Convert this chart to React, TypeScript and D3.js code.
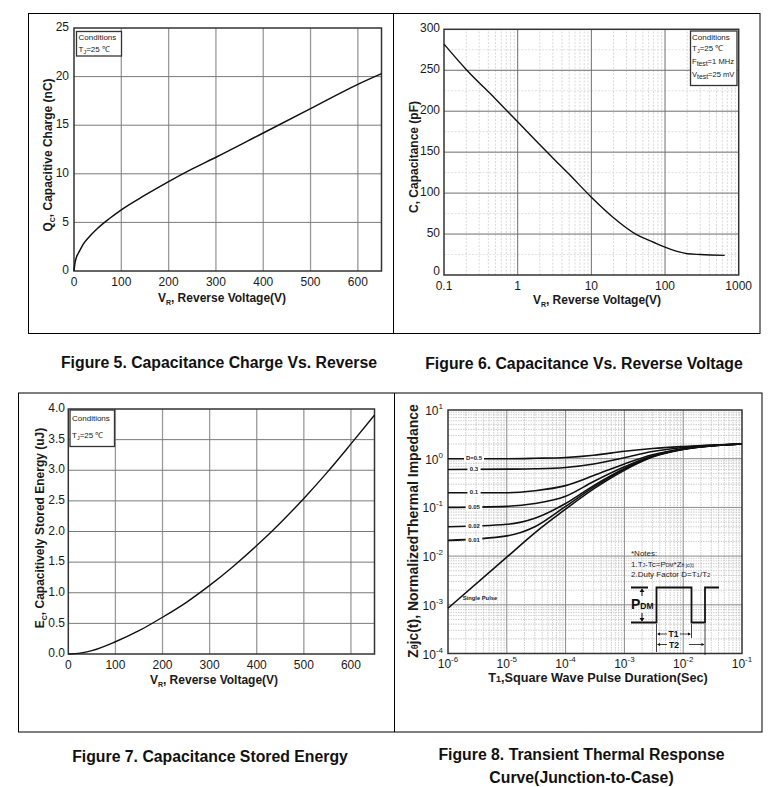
import React from "react";
import * as d3 from "d3";

// ---------- DATA ----------
// Figure 5: capacitive charge
const Q_V = [0, 2, 5, 10, 20, 30, 50, 75, 100, 150, 200, 250, 300, 400, 500, 600, 650];
const Q_NC = [0, 0.8, 1.4, 1.9, 2.8, 3.4, 4.4, 5.4, 6.3, 7.8, 9.2, 10.5, 11.7, 14.2, 16.7, 19.2, 20.3];
const Q_XTICKS = [0, 100, 200, 300, 400, 500, 600];
const Q_YTICKS = [0, 5, 10, 15, 20, 25];

// Figure 6: capacitance
const C_V = [0.1, 0.2, 0.5, 1, 2, 3, 5, 10, 20, 40, 70, 100, 150, 200, 300, 645];
const C_PF = [282, 251, 215, 187, 159, 143, 123, 95, 70, 50, 40, 34, 28.5, 26, 25, 24];
const C_XTICKS = [0.1, 1, 10, 100, 1000];
const C_XLABELS = ["0.1", "1", "10", "100", "1000"];
const C_YTICKS = [0, 50, 100, 150, 200, 250, 300];

// Figure 7: stored energy
const E_V = [0, 25, 50, 100, 150, 200, 250, 300, 350, 400, 450, 500, 550, 600, 650];
const E_UJ = [0, 0.015, 0.055, 0.2, 0.38, 0.6, 0.84, 1.12, 1.43, 1.77, 2.14, 2.54, 2.97, 3.43, 3.9];
const E_XTICKS = [0, 100, 200, 300, 400, 500, 600];
const E_YTICKS = [0, 0.5, 1, 1.5, 2, 2.5, 3, 3.5, 4];

// Figure 8: transient thermal impedance
const T_SEC = [1e-6, 1e-5, 3e-5, 1e-4, 3e-4, 1e-3, 3e-3, 1e-2, 3e-2, 1e-1];
const Z_D05 = [1.0, 1.0, 1.02, 1.06, 1.18, 1.42, 1.62, 1.78, 1.9, 2.0];
const Z_D03 = [0.6, 0.61, 0.62, 0.66, 0.78, 1.05, 1.4, 1.7, 1.88, 2.0];
const Z_D01 = [0.2, 0.2, 0.22, 0.28, 0.45, 0.78, 1.2, 1.6, 1.85, 2.0];
const Z_D005 = [0.1, 0.105, 0.12, 0.17, 0.34, 0.68, 1.15, 1.58, 1.84, 2.0];
const Z_D002 = [0.04, 0.045, 0.06, 0.12, 0.28, 0.63, 1.12, 1.57, 1.83, 2.0];
const Z_D001 = [0.021, 0.026, 0.04, 0.105, 0.26, 0.61, 1.1, 1.56, 1.83, 2.0];
const Z_SINGLE = [8.5e-4, 0.0095, 0.03, 0.092, 0.24, 0.58, 1.08, 1.55, 1.82, 2.0];
const D_LABELS = ["D=0.5", "0.3", "0.1", "0.05", "0.02", "0.01"];
const T_EXP = [-6, -5, -4, -3, -2, -1];
const Z_EXP = [-4, -3, -2, -1, 0, 1];

const FONT = "Arial, 'Liberation Sans', Helvetica, sans-serif";
const INK = "#1a1a1a";

function linePath(xs: number[], ys: number[], sx: any, sy: any) {
  const pts = xs.map((x, i) => [x, ys[i]] as [number, number]);
  return d3
    .line<[number, number]>()
    .x((d) => sx(d[0]))
    .y((d) => sy(d[1]))
    .curve(d3.curveMonotoneX)(pts) as string;
}

function CondBox({ x, y, w, h, lines }: { x: number; y: number; w: number; h: number; lines: React.ReactNode[] }) {
  return (
    <g>
      <rect x={x} y={y} width={w} height={h} fill="#fff" stroke="#333" strokeWidth={1.3} />
      {lines}
    </g>
  );
}

function Sub({ children, size = 7 }: { children: React.ReactNode; size?: number }) {
  return (
    <tspan fontSize={size} dy={3}>
      {children}
    </tspan>
  );
}

export default function App() {
  // ---------- Panel 1 ----------
  const x1 = d3.scaleLinear().domain([0, 650]).range([74, 381.5]);
  const y1 = d3.scaleLinear().domain([0, 25]).range([271, 28]);
  // ---------- Panel 2 ----------
  const x2 = d3.scaleLog().domain([0.1, 1000]).range([444, 738.7]);
  const y2 = d3.scaleLinear().domain([0, 300]).range([275, 29.3]);
  // ---------- Panel 3 ----------
  const x3 = d3.scaleLinear().domain([0, 650]).range([68.3, 374.5]);
  const y3 = d3.scaleLinear().domain([0, 4]).range([654, 409]);
  // ---------- Panel 4 ----------
  const x4 = d3.scaleLog().domain([1e-6, 1e-1]).range([448, 742]);
  const y4 = d3.scaleLog().domain([1e-4, 10]).range([653.5, 410]);

  const minor2: number[] = [];
  for (let e = -1; e < 3; e++) for (let k = 2; k <= 9; k++) minor2.push(k * Math.pow(10, e));
  const minor2y = [25, 75, 125, 175, 225, 275];
  const minor4x: number[] = [];
  for (let e = -6; e < -1; e++) for (let k = 2; k <= 9; k++) minor4x.push(k * Math.pow(10, e));
  const minor4y: number[] = [];
  for (let e = -4; e < 1; e++) for (let k = 2; k <= 9; k++) minor4y.push(k * Math.pow(10, e));

  const zSeries = [Z_D05, Z_D03, Z_D01, Z_D005, Z_D002, Z_D001];

  const tick = { fontFamily: FONT, fontSize: 12, fill: INK };
  const title = { fontFamily: FONT, fontSize: 12, fontWeight: 700, fill: INK };
  const cond = { fontFamily: FONT, fontSize: 8, fill: INK };
  const caption = { fontFamily: FONT, fontSize: 15.8, fontWeight: 700, fill: "#111" };

  return (
    <svg
      width={784}
      height={787}
      style={{ position: "absolute", left: 0, top: 0, background: "#fff" }}
      xmlns="http://www.w3.org/2000/svg"
    >
      <rect x={0} y={0} width={784} height={787} fill="#fff" />
      {/* outer frames */}
      <rect x={28.5} y={13.5} width={731.5} height={320} fill="none" stroke="#000" strokeWidth={1} />
      <line x1={393.5} x2={393.5} y1={13.5} y2={333.5} stroke="#000" />
      <rect x={18.5} y={393} width={743.5} height={339} fill="none" stroke="#000" strokeWidth={1} />
      <line x1={394.5} x2={394.5} y1={393} y2={732} stroke="#000" />

      {/* ================= PANEL 1 ================= */}
      <g>
        {Q_XTICKS.slice(1).map((v) => (
          <line key={"g1x" + v} x1={x1(v)} x2={x1(v)} y1={y1(0)} y2={y1(25)} stroke="#9a9a9a" strokeWidth={1.3} />
        ))}
        {Q_YTICKS.slice(1, -1).map((v) => (
          <line key={"g1y" + v} x1={x1(0)} x2={x1(650)} y1={y1(v)} y2={y1(v)} stroke="#7a7a7a" strokeWidth={1} />
        ))}
        <rect x={x1(0)} y={y1(25)} width={x1(650) - x1(0)} height={y1(0) - y1(25)} fill="none" stroke="#333" strokeWidth={1.5} />
        <path d={linePath(Q_V, Q_NC, x1, y1)} fill="none" stroke="#111" strokeWidth={1.5} />
        {Q_XTICKS.map((v) => (
          <text key={"t1x" + v} x={x1(v)} y={y1(0) + 12} textAnchor="middle" dominantBaseline="middle" {...tick}>
            {v}
          </text>
        ))}
        {Q_YTICKS.map((v) => (
          <text key={"t1y" + v} x={69} y={y1(v)} textAnchor="end" dominantBaseline="middle" {...tick}>
            {v}
          </text>
        ))}
        <text x={222} y={302} textAnchor="middle" {...title}>
          V<Sub>R</Sub>
          <tspan dy={-3}>,  Reverse Voltage(V)</tspan>
        </text>
        <text transform="translate(52,155) rotate(-90)" textAnchor="middle" {...title}>
          Q<Sub>C</Sub>
          <tspan dy={-3}>, Capacitive Charge (nC)</tspan>
        </text>
        <CondBox
          x={76.5}
          y={31.5}
          w={45}
          h={24.5}
          lines={[
            <text key="a" x={78.5} y={40} {...cond}>Conditions</text>,
            <text key="b" x={78.5} y={51.5} {...cond}>
              T<tspan fontSize={5.5} dy={2}>J</tspan>
              <tspan dy={-2}>=25 ℃</tspan>
            </text>,
          ]}
        />
      </g>

      {/* ================= PANEL 2 ================= */}
      <g>
        {minor2.map((v) => (
          <line key={"m2x" + v} x1={x2(v)} x2={x2(v)} y1={y2(0)} y2={y2(300)} stroke="#cfcfcf" strokeWidth={0.8} strokeDasharray="2,1.5" />
        ))}
        {minor2y.map((v) => (
          <line key={"m2y" + v} x1={x2(0.1)} x2={x2(1000)} y1={y2(v)} y2={y2(v)} stroke="#d8d8d8" strokeWidth={0.8} strokeDasharray="2,1.5" />
        ))}
        {C_XTICKS.slice(1, -1).map((v) => (
          <line key={"g2x" + v} x1={x2(v)} x2={x2(v)} y1={y2(0)} y2={y2(300)} stroke="#6e6e6e" strokeWidth={1} />
        ))}
        {C_YTICKS.slice(1, -1).map((v) => (
          <line key={"g2y" + v} x1={x2(0.1)} x2={x2(1000)} y1={y2(v)} y2={y2(v)} stroke="#6e6e6e" strokeWidth={1} />
        ))}
        <rect x={x2(0.1)} y={y2(300)} width={x2(1000) - x2(0.1)} height={y2(0) - y2(300)} fill="none" stroke="#333" strokeWidth={1.5} />
        <path d={linePath(C_V, C_PF, x2, y2)} fill="none" stroke="#111" strokeWidth={1.4} />
        {C_XTICKS.map((v, i) => (
          <text key={"t2x" + v} x={x2(v)} y={y2(0) + 12} textAnchor="middle" dominantBaseline="middle" {...tick}>
            {C_XLABELS[i]}
          </text>
        ))}
        {C_YTICKS.map((v) => (
          <text key={"t2y" + v} x={440} y={y2(v) - (v === 0 ? 3 : 0)} textAnchor="end" dominantBaseline="middle" {...tick}>
            {v}
          </text>
        ))}
        <text x={597} y={304} textAnchor="middle" {...title}>
          V<Sub>R</Sub>
          <tspan dy={-3}>, Reverse Voltage(V)</tspan>
        </text>
        <text transform="translate(418,157) rotate(-90)" textAnchor="middle" {...title}>
          C, Capacitance (pF)
        </text>
        <CondBox
          x={690.5}
          y={31}
          w={46.5}
          h={54.5}
          lines={[
            <text key="a" x={692} y={40} {...cond}>Conditions</text>,
            <text key="b" x={692} y={51} {...cond}>
              T<tspan fontSize={5.5} dy={2}>J</tspan>
              <tspan dy={-2}>=25 ℃</tspan>
            </text>,
            <text key="c" x={692} y={64} {...cond} fontSize={7.6}>
              F<tspan fontSize={6.8} dy={2}>test</tspan>
              <tspan dy={-2}>=1 MHz</tspan>
            </text>,
            <text key="d" x={692} y={77} {...cond} fontSize={7.6}>
              V<tspan fontSize={6.8} dy={2}>test</tspan>
              <tspan dy={-2}>=25 mV</tspan>
            </text>,
          ]}
        />
      </g>

      {/* ================= PANEL 3 ================= */}
      <g>
        {E_XTICKS.slice(1).map((v) => (
          <line key={"g3x" + v} x1={x3(v)} x2={x3(v)} y1={y3(0)} y2={y3(4)} stroke="#9a9a9a" strokeWidth={1.3} />
        ))}
        {E_YTICKS.slice(1, -1).map((v) => (
          <line key={"g3y" + v} x1={x3(0)} x2={x3(650)} y1={y3(v)} y2={y3(v)} stroke="#7a7a7a" strokeWidth={1} />
        ))}
        <rect x={x3(0)} y={y3(4)} width={x3(650) - x3(0)} height={y3(0) - y3(4)} fill="none" stroke="#333" strokeWidth={1.5} />
        <path d={linePath(E_V, E_UJ, x3, y3)} fill="none" stroke="#111" strokeWidth={1.4} />
        {E_XTICKS.map((v) => (
          <text key={"t3x" + v} x={x3(v)} y={y3(0) + 12} textAnchor="middle" dominantBaseline="middle" {...tick}>
            {v}
          </text>
        ))}
        {E_YTICKS.map((v) => (
          <text key={"t3y" + v} x={65} y={y3(v)} textAnchor="end" dominantBaseline="middle" {...tick}>
            {d3.format(".1f")(v)}
          </text>
        ))}
        <text x={214} y={684} textAnchor="middle" {...title}>
          V<Sub>R</Sub>
          <tspan dy={-3}>,  Reverse Voltage(V)</tspan>
        </text>
        <text transform="translate(44,528) rotate(-90)" textAnchor="middle" {...title}>
          E<Sub>C</Sub>
          <tspan dy={-3}>, Capacitively Stored Energy (uJ)</tspan>
        </text>
        <CondBox
          x={70}
          y={410}
          w={44.5}
          h={36.5}
          lines={[
            <text key="a" x={72} y={421} {...cond}>Conditions</text>,
            <text key="b" x={72} y={438} {...cond}>
              T<tspan fontSize={5.5} dy={2}>J</tspan>
              <tspan dy={-2}>=25 ℃</tspan>
            </text>,
          ]}
        />
      </g>

      {/* ================= PANEL 4 ================= */}
      <g>
        {minor4x.map((v) => (
          <line key={"m4x" + v} x1={x4(v)} x2={x4(v)} y1={y4(1e-4)} y2={y4(10)} stroke="#c0c0c0" strokeWidth={0.8} strokeDasharray="1.5,1" />
        ))}
        {minor4y.map((v) => (
          <line key={"m4y" + v} x1={x4(1e-6)} x2={x4(1e-1)} y1={y4(v)} y2={y4(v)} stroke="#c0c0c0" strokeWidth={0.8} strokeDasharray="1.5,1" />
        ))}
        {T_EXP.slice(1, -1).map((e) => (
          <line key={"g4x" + e} x1={x4(Math.pow(10, e))} x2={x4(Math.pow(10, e))} y1={y4(1e-4)} y2={y4(10)} stroke="#8a8a8a" strokeWidth={1} />
        ))}
        {Z_EXP.slice(1, -1).map((e) => (
          <line key={"g4y" + e} x1={x4(1e-6)} x2={x4(1e-1)} y1={y4(Math.pow(10, e))} y2={y4(Math.pow(10, e))} stroke="#8a8a8a" strokeWidth={1} />
        ))}
        <rect x={x4(1e-6)} y={y4(10)} width={x4(1e-1) - x4(1e-6)} height={y4(1e-4) - y4(10)} fill="none" stroke="#333" strokeWidth={1.5} />
        {zSeries.map((zs, i) => (
          <path key={"z" + i} d={linePath(T_SEC, zs, x4, y4)} fill="none" stroke="#111" strokeWidth={1.6} />
        ))}
        <path d={linePath(T_SEC, Z_SINGLE, x4, y4)} fill="none" stroke="#111" strokeWidth={1.6} />
        {zSeries.map((zs, i) => {
          const cx = 474;
          const cy = y4(zs[0]);
          const w = D_LABELS[i].length * 3.4 + 3;
          return (
            <g key={"dl" + i}>
              <rect x={cx - w / 2} y={cy - 3} width={w} height={6} fill="#fff" />
              <text x={cx} y={cy} textAnchor="middle" dominantBaseline="middle" fontFamily={FONT} fontSize={6} fontWeight={700} fill="#222">
                {D_LABELS[i]}
              </text>
            </g>
          );
        })}
        <text x={480} y={598} textAnchor="middle" dominantBaseline="middle" fontFamily={FONT} fontSize={5.8} fontWeight={700} fill="#222">
          Single Pulse
        </text>
        {T_EXP.map((e) => (
          <text key={"t4x" + e} x={x4(Math.pow(10, e))} y={668} textAnchor="middle" {...tick}>
            10<tspan fontSize={8} dy={-6}>{e}</tspan>
          </text>
        ))}
        {Z_EXP.map((e) => (
          <text key={"t4y" + e} x={443} y={y4(Math.pow(10, e)) + 5} textAnchor="end" {...tick}>
            10<tspan fontSize={8} dy={-6}>{e}</tspan>
          </text>
        ))}
        <text x={598} y={682} textAnchor="middle" {...title} fontSize={12.7}>
          T<tspan fontSize={9}>1</tspan>,Square Wave Pulse Duration(Sec)
        </text>
        <text transform="translate(418,531) rotate(-90)" textAnchor="middle" fontFamily={FONT} fontSize={14} fontWeight={700} fill={INK}>
          Z<tspan fontSize={9}>θ</tspan>jc(t), NormalizedThermal Impedance
        </text>

        {/* notes */}
        <text x={631} y={556} fontFamily={FONT} fontSize={8} fill="#222">*Notes:</text>
        <text x={631} y={567} fontFamily={FONT} fontSize={8} fill="#222">
          1.T<tspan fontSize={5}>J</tspan>-Tc=P<tspan fontSize={5}>DM</tspan>*Z<tspan fontSize={5}>θ jc(t)</tspan>
        </text>
        <text x={631} y={577} fontFamily={FONT} fontSize={8} fill="#222">
          2.Duty Factor D=T<tspan fontSize={6}>1</tspan>/T<tspan fontSize={6}>2</tspan>
        </text>
        {/* pulse waveform */}
        <path d="M631,587.5 H648 M631,622.5 H656.5 V587.5 H691.5 V622.5 H705 V587.5 H719" fill="none" stroke="#111" strokeWidth={1.8} />
        <line x1={642} x2={642} y1={589} y2={596} stroke="#111" strokeWidth={1} />
        <line x1={642} x2={642} y1={613} y2={621} stroke="#111" strokeWidth={1} />
        <path d="M639.5,592 L642,588.5 L644.5,592 Z M639.5,618 L642,621.5 L644.5,618 Z" fill="#111" />
        <text x={631} y={609} fontFamily={FONT} fontSize={14} fontWeight={700} fill="#111">
          P<tspan fontSize={8.5}>DM</tspan>
        </text>
        <line x1={656.5} x2={656.5} y1={624} y2={652} stroke="#111" strokeWidth={0.8} />
        <line x1={691.5} x2={691.5} y1={624} y2={638} stroke="#111" strokeWidth={0.8} />
        <line x1={705} x2={705} y1={624} y2={655} stroke="#111" strokeWidth={0.8} />
        <line x1={658} x2={667} y1={634} y2={634} stroke="#111" strokeWidth={0.8} />
        <line x1={680} x2={690} y1={634} y2={634} stroke="#111" strokeWidth={0.8} />
        <line x1={658} x2={667} y1={644.5} y2={644.5} stroke="#111" strokeWidth={0.8} />
        <line x1={689} x2={703.5} y1={644.5} y2={644.5} stroke="#111" strokeWidth={0.8} />
        <path d="M657,634 L660,632.5 L660,635.5 Z M691,634 L688,632.5 L688,635.5 Z M657,644.5 L660,643 L660,646 Z M704.5,644.5 L701.5,643 L701.5,646 Z" fill="#111" />
        <text x={673.5} y={637} textAnchor="middle" fontFamily={FONT} fontSize={8.5} fontWeight={700} fill="#111">T1</text>
        <text x={674} y={647.5} textAnchor="middle" fontFamily={FONT} fontSize={8.5} fontWeight={700} fill="#111">T2</text>
      </g>

      {/* captions */}
      <text x={219} y={368} textAnchor="middle" {...caption}>Figure 5. Capacitance Charge Vs. Reverse</text>
      <text x={584} y={369} textAnchor="middle" {...caption}>Figure 6. Capacitance Vs. Reverse Voltage</text>
      <text x={210} y={762} textAnchor="middle" {...caption}>Figure 7. Capacitance Stored Energy</text>
      <text x={581.5} y={760} textAnchor="middle" {...caption}>Figure 8. Transient Thermal Response</text>
      <text x={581.5} y={783} textAnchor="middle" {...caption}>Curve(Junction-to-Case)</text>
    </svg>
  );
}
